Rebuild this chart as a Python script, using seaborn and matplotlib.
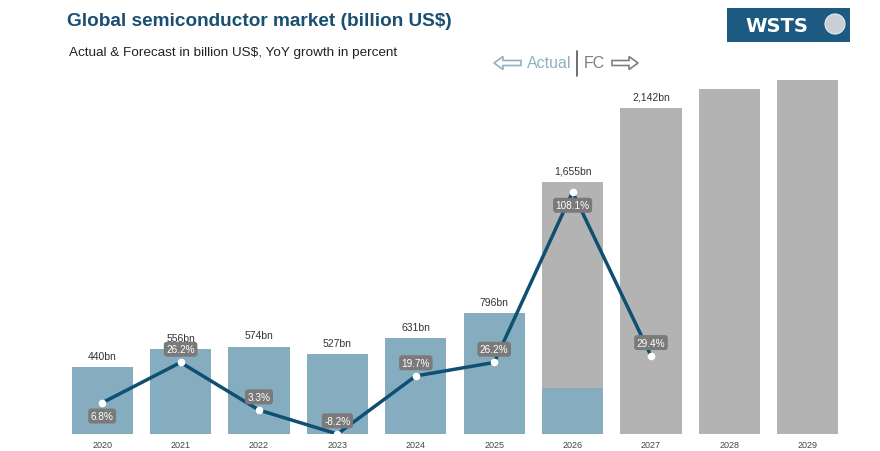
import numpy as np
import pandas as pd
import seaborn as sns
import matplotlib.pyplot as plt
from matplotlib.patches import Rectangle, Circle, Polygon

# data
years = ['2020', '2021', '2022', '2023', '2024', '2025', '2026', '2027', '2028', '2029']
total_bn = [440, 556, 574, 527, 631, 796, 1655, 2142, 2263, 2322]
actual_bn = [440, 556, 574, 527, 631, 796, 300, 0, 0, 0]
bar_labels = ['440bn', '556bn', '574bn', '527bn', '631bn', '796bn', '1,655bn', '2,142bn', '', '']
growth_years = ['2020', '2021', '2022', '2023', '2024', '2025', '2026', '2027']
growth_pct = [6.8, 26.2, 3.3, -8.2, 19.7, 26.2, 108.1, 29.4]
growth_side = ['below', 'above', 'above', 'above', 'above', 'above', 'below', 'above']

BLUE_BAR = '#86adbf'
GREY_BAR = '#b3b3b3'
LINE = '#0e4f72'
DARK = '#1b4f72'

sns.set_theme(style='white')
plt.rcParams['font.family'] = ['Liberation Sans', 'DejaVu Sans']

df = pd.DataFrame({'year': years, 'total': total_bn, 'actual': actual_bn})

fig = plt.figure(figsize=(8.8, 4.52), dpi=100)
ax = fig.add_axes([63 / 880, 17 / 452, 784 / 880, 365.5 / 452])

sns.barplot(data=df, x='year', y='total', color=GREY_BAR, saturation=1,
            width=0.78, linewidth=0, ax=ax)
sns.barplot(data=df, x='year', y='actual', color=BLUE_BAR, saturation=1,
            width=0.78, linewidth=0, ax=ax)
ax.set_ylim(0, 2400)
ax.set_xlim(-0.5, 9.5)
ax.set_xlabel('')
ax.set_ylabel('')
ax.set_yticks([])
ax.tick_params(axis='x', length=0, labelsize=6.5, labelcolor='#444444', pad=4)
sns.despine(ax=ax, left=True, bottom=True)

for i, (v, lab) in enumerate(zip(total_bn, bar_labels)):
    if lab:
        ax.annotate(lab, (i, v), xytext=(0, 8), textcoords='offset points',
                    ha='center', va='center', fontsize=7.5, color='#333333')

# growth line on secondary axis
ax2 = ax.twinx()
gx = np.arange(len(growth_pct))
sns.lineplot(x=gx, y=growth_pct, ax=ax2, color=LINE, linewidth=2.5,
             marker='o', markersize=5.5, markerfacecolor='white',
             markeredgewidth=0, zorder=3)
ax2.set_ylim(-8.2, 167.5)
ax2.set_yticks([])
ax2.set_ylabel('')
sns.despine(ax=ax2, left=True, right=True, bottom=True)
ax2.set_xlim(-0.5, 9.5)

for i, (g, side) in enumerate(zip(growth_pct, growth_side)):
    dy = 9.5 if side == 'above' else -9.5
    ax2.annotate(f'{g:.1f}%', (i, g), xytext=(0, dy), textcoords='offset points',
                 ha='center', va='center', fontsize=7.2, color='white', zorder=4,
                 bbox=dict(boxstyle='round,pad=0.25,rounding_size=0.3',
                           fc='#7a7a7a', ec='none'))

# header decorations (pixel space overlay)
hd = fig.add_axes([0, 0, 1, 1], zorder=5)
hd.set_xlim(0, 880)
hd.set_ylim(452, 0)
hd.axis('off')

hd.text(67, 22, 'Global semiconductor market (billion US$)', fontsize=13.7,
        fontweight='bold', color=DARK, va='center', ha='left')
hd.text(69, 53, 'Actual & Forecast in billion US$, YoY growth in percent',
        fontsize=9.7, color='#222222', va='center', ha='left')

act_col = '#8fb1c2'
fc_col = '#7f7f7f'
left_arrow = [(494, 64), (503, 57.5), (503, 61.5), (521, 61.5), (521, 66.5),
              (503, 66.5), (503, 70.5)]
right_arrow = [(638, 64), (629, 57.5), (629, 61.5), (612, 61.5), (612, 66.5),
               (629, 66.5), (629, 70.5)]
hd.add_patch(Polygon(left_arrow, closed=True, fc='white', ec=act_col, lw=1.2))
hd.add_patch(Polygon(right_arrow, closed=True, fc='white', ec=fc_col, lw=1.2))
hd.text(527, 64, 'Actual', fontsize=11.5, color=act_col, va='center', ha='left')
hd.plot([577, 577], [52, 77], color='#555555', lw=1.2)
hd.text(584, 64, 'FC', fontsize=11.5, color=fc_col, va='center', ha='left')

# logo
hd.add_patch(Rectangle((727, 9), 123, 34, fc='#1d5a82', ec='none'))
hd.text(777, 26, 'WSTS', fontsize=14, fontweight='bold', color='white',
        va='center', ha='center', family='DejaVu Sans')
hd.add_patch(Circle((835, 25), 10, fc='#c9cfd4', ec='#e8ecef', lw=0.8))

fig.savefig('out.png', dpi=100)
